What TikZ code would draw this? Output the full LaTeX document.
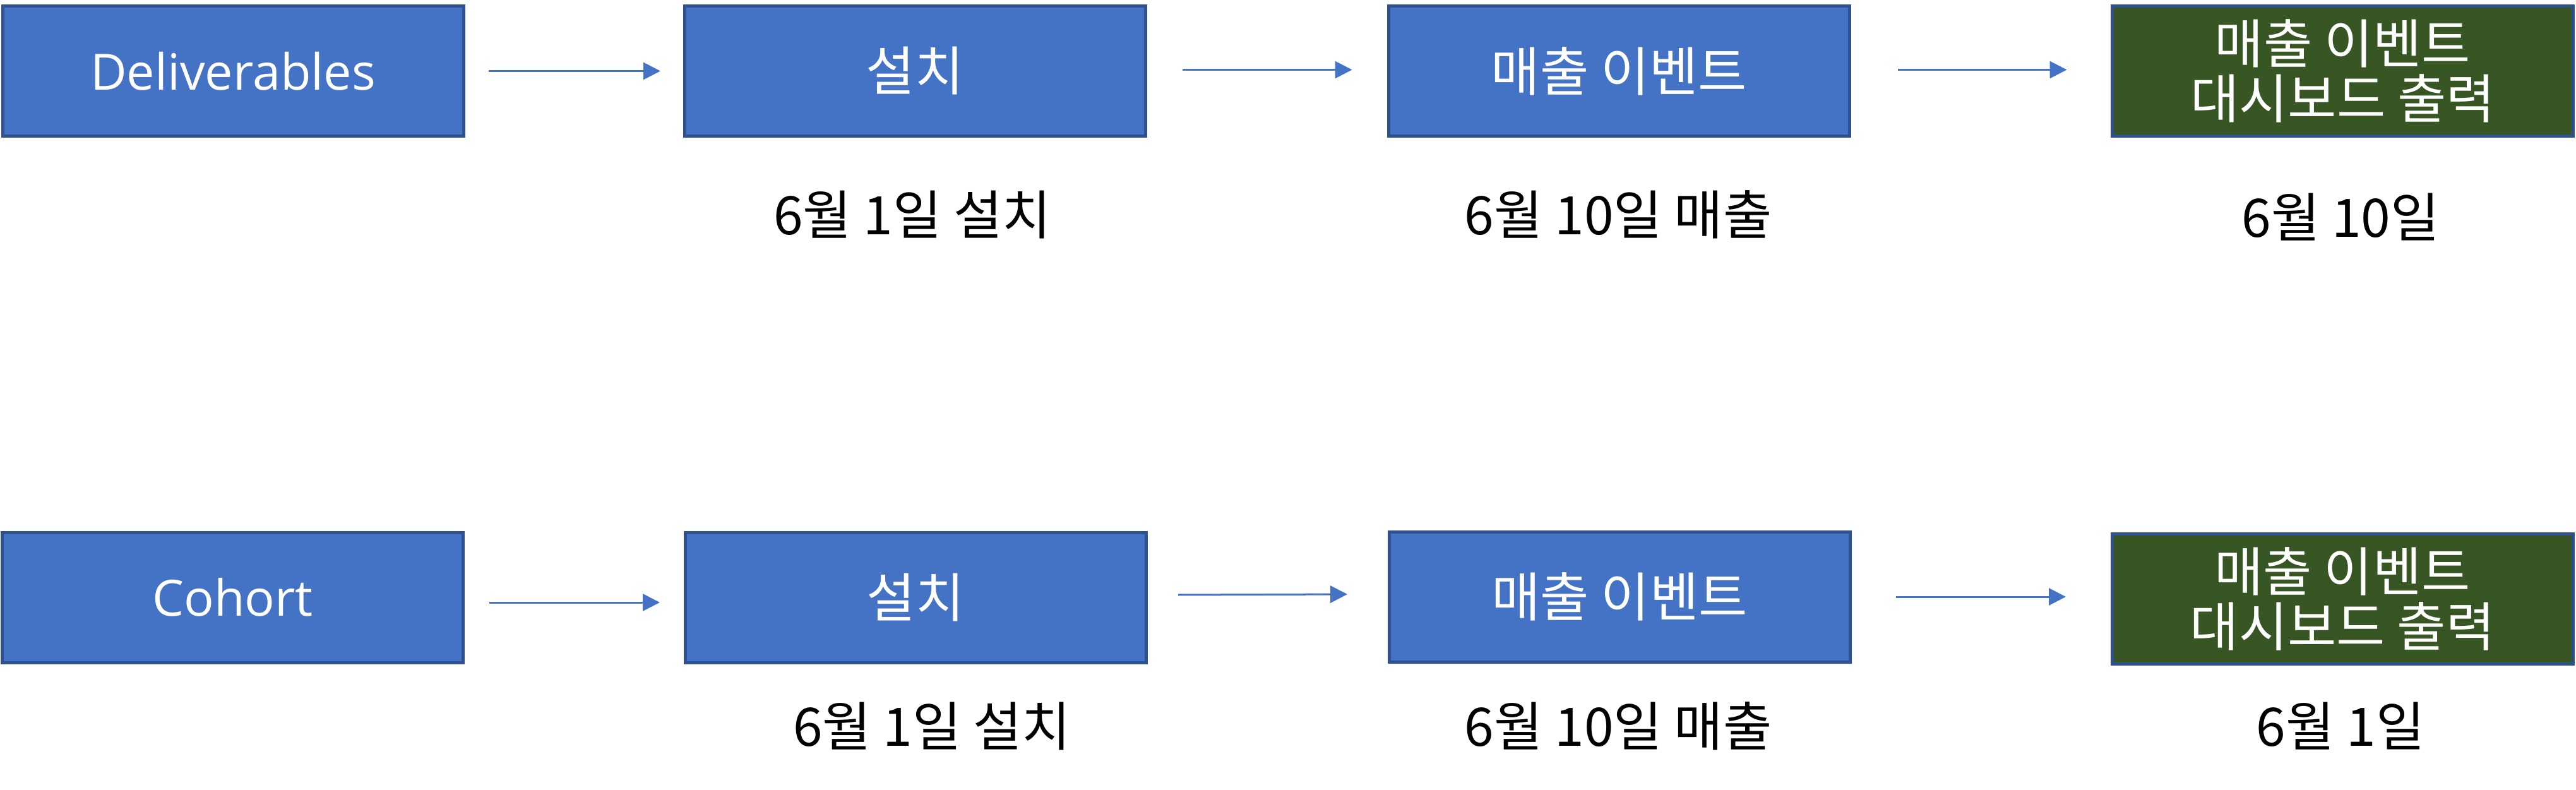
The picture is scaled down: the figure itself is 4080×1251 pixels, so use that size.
\documentclass[tikz,border=0pt]{standalone}
\usepackage{fontspec}
\setmainfont{Open Sans}
\newfontfamily\cjk{Noto Sans CJK KR}
\usetikzlibrary{arrows.meta}
\definecolor{boxblue}{HTML}{4472C4}
\definecolor{boxedge}{HTML}{2F528F}
\definecolor{boxgreen}{HTML}{375623}
\tikzset{
  box/.style={draw=boxedge, line width=1.25pt, fill=boxblue, text=white,
    minimum width=182.5pt, minimum height=51.5pt, inner sep=0pt, outer sep=0pt,
    align=center, font=\fontsize{19.8}{21.75}\selectfont},
  gbox/.style={box, fill=boxgreen},
  kor/.style={font=\cjk\fontsize{21}{21.75}\selectfont},
  lbl/.style={text=black, inner sep=0pt, font=\cjk\fontsize{21}{25}\selectfont},
  arr/.style={draw=boxblue, line width=0.75pt, -{Triangle[length=6.75pt,width=6.75pt]}}
}
\begin{document}
\begin{tikzpicture}[x=0.25pt,y=-0.25pt]
\useasboundingbox[fill=white] (0,0) rectangle (4080,1251);
% row 1
\node[box] (A1) at (369,112.5) {Deliverables};
\node[box,kor] (B1) at (1449,112.5) {설치};
\node[box,kor] (C1) at (2564.5,112.5) {매출 이벤트};
\node[gbox,kor] (D1) at (3710.5,112.5) {매출 이벤트\\대시보드 출력};
% row 2
\node[box] (A2) at (368.5,946) {Cohort};
\node[box,kor] (B2) at (1450,946) {설치};
\node[box,kor] (C2) at (2565,945) {매출 이벤트};
\node[gbox,kor] (D2) at (3710,948) {매출 이벤트\\대시보드 출력};
% arrows
\draw[arr] ([xshift=10pt]A1.east) -- ([xshift=-9.5pt]B1.west);
\draw[arr] ([xshift=14.75pt,yshift=0.5pt]B1.east) -- ([xshift=-14.5pt,yshift=0.5pt]C1.west);
\draw[arr] ([xshift=19pt,yshift=0.5pt]C1.east) -- ([xshift=-18pt,yshift=0.5pt]D1.west);
\draw[arr] ([xshift=10.4pt,yshift=-2pt]A2.east) -- ([xshift=-10pt,yshift=-2pt]B2.west);
\draw[arr] ([xshift=12.75pt,yshift=1pt]B2.east) -- ([xshift=-16.5pt,yshift=1pt]C2.west);
\draw[arr] ([xshift=18.25pt]C2.east) -- ([xshift=-18.25pt,yshift=0.75pt]D2.west);
% labels
\node[lbl] (L1a) at (1445,340) {6월 1일 설치};
\node[lbl] (L1b) at (2563,340) {6월 10일 매출};
\node[lbl] (L1c) at (3707,344) {6월 10일};
\node[lbl] (L2a) at (1476,1150) {6월 1일 설치};
\node[lbl] (L2b) at (2563,1150) {6월 10일 매출};
\node[lbl] (L2c) at (3707,1150) {6월 1일};
\end{tikzpicture}
\end{document}
